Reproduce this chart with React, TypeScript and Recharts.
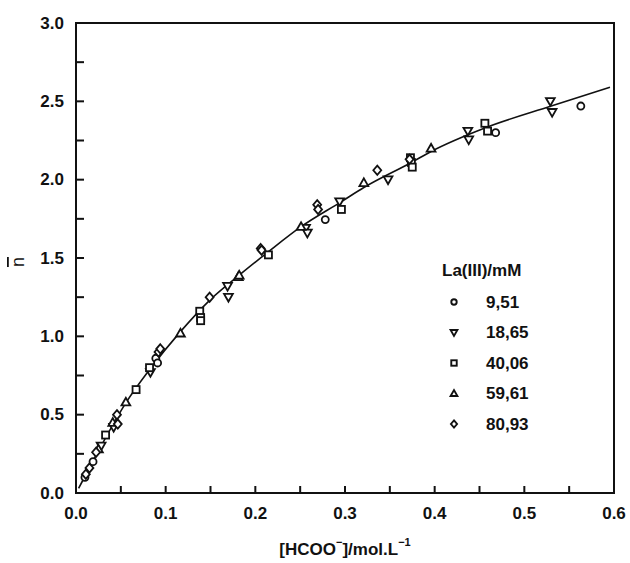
import { ComposedChart, Scatter, Line, XAxis, YAxis, ReferenceArea } from 'recharts';

// [HCOO-] (mol/L) vs n-bar
const la951 = [
  { x: 0.010, y: 0.10 }, { x: 0.019, y: 0.20 }, { x: 0.089, y: 0.86 },
  { x: 0.091, y: 0.83 }, { x: 0.278, y: 1.745 }, { x: 0.468, y: 2.30 },
  { x: 0.563, y: 2.47 },
];
const la1865 = [
  { x: 0.028, y: 0.30 }, { x: 0.042, y: 0.42 }, { x: 0.083, y: 0.77 },
  { x: 0.169, y: 1.32 }, { x: 0.170, y: 1.25 }, { x: 0.256, y: 1.69 },
  { x: 0.258, y: 1.66 }, { x: 0.294, y: 1.86 }, { x: 0.348, y: 2.00 },
  { x: 0.437, y: 2.31 }, { x: 0.438, y: 2.255 }, { x: 0.529, y: 2.50 },
  { x: 0.531, y: 2.43 },
];
const la4006 = [
  { x: 0.033, y: 0.37 }, { x: 0.067, y: 0.66 }, { x: 0.082, y: 0.80 },
  { x: 0.138, y: 1.16 }, { x: 0.139, y: 1.12 }, { x: 0.139, y: 1.10 },
  { x: 0.2146, y: 1.52 }, { x: 0.296, y: 1.81 }, { x: 0.373, y: 2.14 },
  { x: 0.374, y: 2.11 }, { x: 0.375, y: 2.08 }, { x: 0.456, y: 2.36 },
  { x: 0.459, y: 2.31 },
];
const la5961 = [
  { x: 0.025, y: 0.28 }, { x: 0.041, y: 0.45 }, { x: 0.0556, y: 0.58 },
  { x: 0.1165, y: 1.02 }, { x: 0.181, y: 1.38 }, { x: 0.182, y: 1.39 },
  { x: 0.251, y: 1.70 }, { x: 0.321, y: 1.98 }, { x: 0.396, y: 2.20 },
];
const la8093 = [
  { x: 0.011, y: 0.12 }, { x: 0.015, y: 0.16 }, { x: 0.0224, y: 0.26 },
  { x: 0.0457, y: 0.50 }, { x: 0.0466, y: 0.44 }, { x: 0.092, y: 0.90 },
  { x: 0.094, y: 0.92 }, { x: 0.149, y: 1.25 }, { x: 0.206, y: 1.56 },
  { x: 0.207, y: 1.55 }, { x: 0.269, y: 1.84 }, { x: 0.270, y: 1.81 },
  { x: 0.336, y: 2.06 }, { x: 0.372, y: 2.13 },
];

// fitted curve
const fitCurve = [
  { x: 0.003, y: 0.03 }, { x: 0.028, y: 0.30 }, { x: 0.0556, y: 0.575 },
  { x: 0.0824, y: 0.79 }, { x: 0.1165, y: 1.03 }, { x: 0.149, y: 1.23 },
  { x: 0.182, y: 1.39 }, { x: 0.2146, y: 1.54 }, { x: 0.251, y: 1.70 },
  { x: 0.296, y: 1.86 }, { x: 0.321, y: 1.95 }, { x: 0.374, y: 2.11 },
  { x: 0.396, y: 2.18 }, { x: 0.456, y: 2.33 }, { x: 0.530, y: 2.47 },
  { x: 0.5955, y: 2.59 },
];

const xTicks = [0, 0.05, 0.1, 0.15, 0.2, 0.25, 0.3, 0.35, 0.4, 0.45, 0.5, 0.55, 0.6];
const yTicks = [0, 0.25, 0.5, 0.75, 1, 1.25, 1.5, 1.75, 2, 2.25, 2.5, 2.75, 3];

const seriesNames = ['9,51', '18,65', '40,06', '59,61', '80,93'];
const seriesKinds = ['circle', 'triDown', 'square', 'triUp', 'diamond'];

const FONT = '"Liberation Sans", Arial, Helvetica, sans-serif';
const INK = '#111';

const isMajor = (v: number, step: number) => Math.abs(v / step - Math.round(v / step)) < 1e-6;

const drawMarker = (kind: string, cx: number, cy: number, s: number, sw: number) => {
  const common = { fill: '#fff', stroke: INK, strokeWidth: sw };
  switch (kind) {
    case 'circle':
      return <circle cx={cx} cy={cy} r={s * 0.8} {...common} />;
    case 'triDown':
      return <polygon points={`${cx - s},${cy - s * 0.75} ${cx + s},${cy - s * 0.75} ${cx},${cy + s}`} {...common} />;
    case 'triUp':
      return <polygon points={`${cx - s},${cy + s * 0.75} ${cx + s},${cy + s * 0.75} ${cx},${cy - s}`} {...common} />;
    case 'square':
      return <rect x={cx - s * 0.8} y={cy - s * 0.8} width={s * 1.6} height={s * 1.6} {...common} />;
    default:
      return <polygon points={`${cx},${cy - s * 1.05} ${cx + s * 0.9},${cy} ${cx},${cy + s * 1.05} ${cx - s * 0.9},${cy}`} {...common} />;
  }
};

const shapeFor = (kind: string) => (props: any) => {
  const { cx, cy } = props;
  if (cx == null || cy == null) return <g />;
  return drawMarker(kind, cx, cy, 4.4, 1.8);
};

// tick marks as small filled bars pointing into the plot
const bar = (x: number, y: number, w: number, h: number) => (
  <rect x={x} y={y} width={w} height={h} fill={INK} stroke="none" />
);

const BottomTick = (props: any) => {
  const { x, y, payload } = props;
  const v = payload.value;
  return (
    <g>
      {bar(x - 1, y - 7, 2, 7)}
      {isMajor(v, 0.1) && (
        <text x={x} y={y + 20} textAnchor="middle" dominantBaseline="central"
          fontFamily={FONT} fontWeight="bold" fontSize={17} fill={INK}>
          {v.toFixed(1)}
        </text>
      )}
    </g>
  );
};

const TopTick = (props: any) => {
  const { x, y } = props;
  return bar(x - 1, y, 2, 7);
};

const LeftTick = (props: any) => {
  const { x, y, payload } = props;
  const v = payload.value;
  return (
    <g>
      {bar(x, y - 1, 8, 2)}
      {isMajor(v, 0.5) && (
        <text x={x - 12} y={y} textAnchor="end" dominantBaseline="central"
          fontFamily={FONT} fontWeight="bold" fontSize={17} fill={INK}>
          {v.toFixed(1)}
        </text>
      )}
    </g>
  );
};

const RightTick = (props: any) => {
  const { x, y } = props;
  return bar(x - 9, y - 1, 9, 2);
};

// the plot box, as four filled strips
const Frame = (props: any) => {
  const { x, y, width, height } = props;
  return (
    <g>
      {bar(x - 1, y - 1, width + 2, 2)}
      {bar(x - 1, y + height - 1, width + 2, 2)}
      {bar(x - 1, y - 1, 2, height + 2)}
      {bar(x + width - 1, y - 1, 2, height + 2)}
    </g>
  );
};

const XTitle = () => (
  <text x={345} y={549} textAnchor="middle" dominantBaseline="central"
    fontFamily={FONT} fontWeight="bold" fontSize={17} fill={INK}>
    [HCOO<tspan fontSize={11} dy={-7}>−</tspan>
    <tspan dy={7}>]/mol.L</tspan>
    <tspan fontSize={11} dy={-7}>−1</tspan>
  </text>
);

const YTitle = () => (
  <text x={18} y={262} textAnchor="middle" dominantBaseline="central"
    transform="rotate(-90 18 262)" fontFamily={FONT} fontSize={18} fill={INK}
    textDecoration="overline">
    n
  </text>
);

const LegendBox = () => (
  <svg width={140} height={190} style={{ position: 'absolute', left: 410, top: 250 }}>
    <text x={32} y={20} dominantBaseline="central" fontFamily={FONT}
      fontWeight="bold" fontSize={17} fill={INK}>
      La(III)/mM
    </text>
    {seriesNames.map((name, i) => {
      const cy = 52 + i * 30.5;
      return (
        <g key={name}>
          {drawMarker(seriesKinds[i], 44, cy, 3.4, 1.9)}
          <text x={76} y={cy} dominantBaseline="central" fontFamily={FONT}
            fontWeight="bold" fontSize={17} fill={INK}>
            {name}
          </text>
        </g>
      );
    })}
  </svg>
);

export default function App() {
  const series = [la951, la1865, la4006, la5961, la8093];
  return (
    <div style={{ position: 'absolute', left: 0, top: 0, width: 630, height: 563, background: '#fff' }}>
      <ComposedChart width={630} height={563} margin={{ top: 23, right: 16, bottom: 0, left: 0 }}>
        <XAxis xAxisId="b" type="number" dataKey="x" domain={[0, 0.6]} ticks={xTicks}
          orientation="bottom" height={70} tickSize={0} tickMargin={0} tickLine={false}
          axisLine={false} tick={<BottomTick />} allowDataOverflow label={<XTitle />} />
        <XAxis xAxisId="t" type="number" dataKey="x" domain={[0, 0.6]} ticks={xTicks}
          orientation="top" height={0} tickSize={0} tickMargin={0} tickLine={false}
          axisLine={false} tick={<TopTick />} allowDataOverflow />
        <YAxis yAxisId="l" type="number" domain={[0, 3]} ticks={yTicks} width={76}
          orientation="left" tickSize={0} tickMargin={0} tickLine={false}
          axisLine={false} tick={<LeftTick />} allowDataOverflow label={<YTitle />} />
        <YAxis yAxisId="r" type="number" domain={[0, 3]} ticks={yTicks} width={0}
          orientation="right" tickSize={0} tickMargin={0} tickLine={false}
          axisLine={false} tick={<RightTick />} allowDataOverflow />

        <ReferenceArea xAxisId="b" yAxisId="l" x1={0} x2={0.6} y1={0} y2={3}
          ifOverflow="visible" shape={<Frame />} />

        {/* curve on the top/right pair (same domains) so those axes have a series */}
        <Line xAxisId="t" yAxisId="r" data={fitCurve} dataKey="y" type="monotone"
          stroke={INK} strokeWidth={1.6} dot={false} activeDot={false}
          legendType="none" isAnimationActive={false} />
        {series.map((d, i) => (
          <Scatter key={seriesNames[i]} xAxisId="b" yAxisId="l" data={d} dataKey="y"
            name={seriesNames[i]} shape={shapeFor(seriesKinds[i])} isAnimationActive={false} />
        ))}
      </ComposedChart>
      <LegendBox />
    </div>
  );
}
